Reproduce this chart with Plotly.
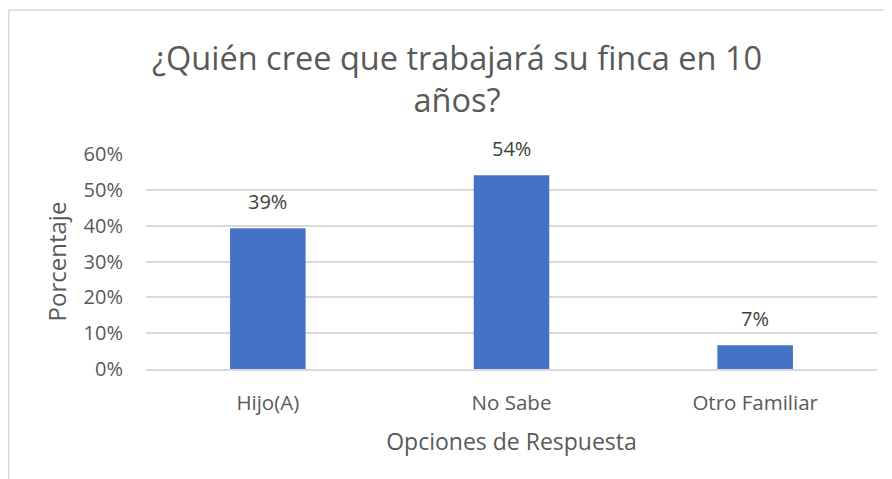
import plotly.graph_objects as go

categories = ["Hijo(A)", "No Sabe", "Otro Familiar"]
porcentajes = [0.393, 0.541, 0.066]
etiquetas = ["39%", "54%", "7%"]
y_ticks = [0, 0.1, 0.2, 0.3, 0.4, 0.5, 0.6]

FONT = "Open Sans"
GRIS = "#595959"

fig = go.Figure(
    go.Bar(
        x=categories,
        y=porcentajes,
        marker=dict(color="#4472C4", line=dict(width=0)),
        width=0.31,
        hoverinfo="x+y",
    )
)

# etiquetas de datos encima de cada barra
for cat, val, txt in zip(categories, porcentajes, etiquetas):
    fig.add_annotation(
        x=cat, y=val, text=txt, showarrow=False,
        yanchor="bottom", yshift=11,
        font=dict(size=20, color="#404040", family=FONT),
    )

# the page body has an 8px margin, so the figure is 8px smaller
fig.update_layout(
    width=884,
    height=471,
    margin=dict(l=138, r=15, t=146, b=110),
    paper_bgcolor="white",
    plot_bgcolor="white",
    showlegend=False,
    font=dict(family=FONT, color=GRIS),
    title=dict(
        text="¿Quién cree que trabajará su finca en 10<br>años?",
        x=0.508,
        xanchor="center",
        y=0.868,
        yref="container",
        yanchor="middle",
        font=dict(size=32.5, color=GRIS, family=FONT),
    ),
)

fig.update_xaxes(
    showgrid=False,
    showline=True,
    linecolor="#d9d9d9",
    linewidth=1.5,
    ticks="",
    ticklabelstandoff=15,
    tickfont=dict(size=20.5, color=GRIS),
    title=dict(text="Opciones de Respuesta", font=dict(size=23, color=GRIS), standoff=19),
)

fig.update_yaxes(
    range=[0, 0.6],
    tickvals=y_ticks,
    tickformat=".0%",
    showgrid=True,
    gridcolor="#d9d9d9",
    gridwidth=1.5,
    zeroline=False,
    showline=False,
    ticks="",
    ticklabelstandoff=22,
    tickfont=dict(size=20, color=GRIS),
    title=dict(text="Porcentaje", font=dict(size=24, color=GRIS), standoff=10),
)

# marco del gráfico (bordes izquierdo y superior visibles)
fig.add_shape(type="line", xref="paper", yref="paper", x0=-0.1878, x1=1.05, y0=1.67, y1=1.67,
              line=dict(color="#d9d9d9", width=1.5))
fig.add_shape(type="line", xref="paper", yref="paper", x0=-0.1878, x1=-0.1878, y0=1.67, y1=-0.52,
              line=dict(color="#d9d9d9", width=1.5))

fig.write_html("out.html")
